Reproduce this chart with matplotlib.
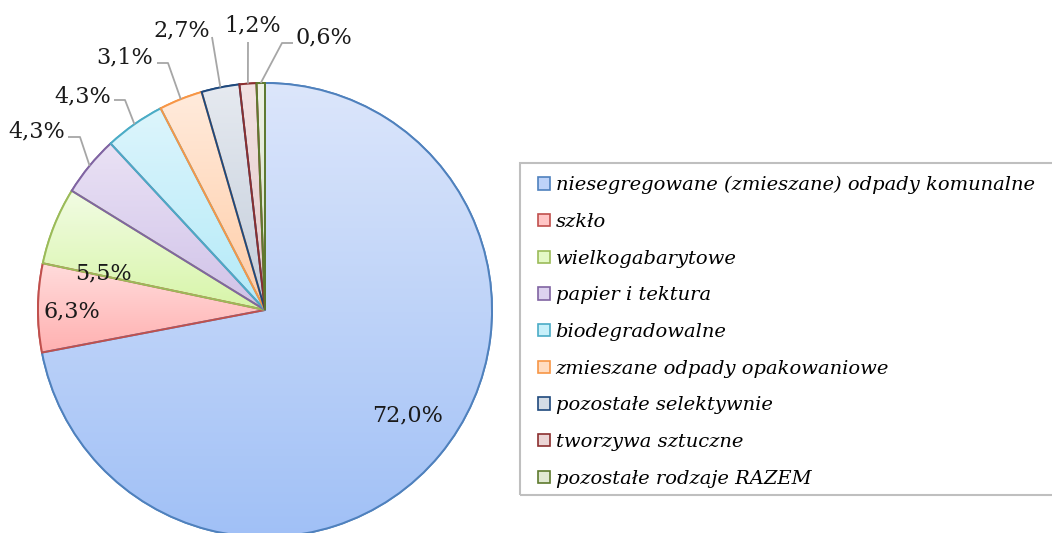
import numpy as np
import matplotlib.pyplot as plt
from matplotlib.colors import to_rgb
from matplotlib.patches import Rectangle, Wedge

# data
labels = ['niesegregowane (zmieszane) odpady komunalne', 'szkło', 'wielkogabarytowe',
          'papier i tektura', 'biodegradowalne', 'zmieszane odpady opakowaniowe',
          'pozostałe selektywnie', 'tworzywa sztuczne', 'pozostałe rodzaje RAZEM']
values = [72.0, 6.3, 5.5, 4.3, 4.3, 3.1, 2.7, 1.2, 0.6]
value_text = ['72,0%', '6,3%', '5,5%', '4,3%', '4,3%', '3,1%', '2,7%', '1,2%', '0,6%']

edge_colors = ['#4F81BD', '#C0504D', '#9BBB59', '#8064A2', '#4BACC6',
               '#F79646', '#1F497D', '#8B2F2F', '#5E7A2E']
top_colors = ['#DCE6FB', '#FFDCDC', '#F2FCE4', '#EAE2F5', '#DDF5FC',
              '#FFEBDC', '#E6EAF0', '#F2E2E2', '#EEF2E6']
bottom_colors = ['#A0C0F6', '#FFB0B0', '#D7F5A8', '#D0C2E8', '#B3EAF8',
                 '#FFCCA6', '#C3CDDB', '#E3C9C9', '#D3DFC0']

W, H = 1052, 533
fig = plt.figure(figsize=(W / 100, H / 100), dpi=100)
ax = fig.add_axes([0, 0, 1, 1])

cx, cy, r = 265, H - 310, 227
font = 'DejaVu Serif'

mid_colors = [tuple((np.array(to_rgb(t)) + np.array(to_rgb(b))) / 2)
              for t, b in zip(top_colors, bottom_colors)]
wedges, _ = ax.pie(values, colors=mid_colors, startangle=90, counterclock=False,
                   center=(cx, cy), radius=r, frame=True,
                   wedgeprops=dict(linewidth=1.4))

# per-slice vertical gradient (light at top, darker at bottom)
for w, ec, tc, bc in zip(wedges, edge_colors, top_colors, bottom_colors):
    w.set_edgecolor(ec)
    v = w.get_path().vertices
    x0, x1 = v[:, 0].min(), v[:, 0].max()
    y0, y1 = v[:, 1].min(), v[:, 1].max()
    t = np.linspace(0, 1, 256)[:, None, None]
    grad = np.array(to_rgb(bc))[None, None, :] * (1 - t) + np.array(to_rgb(tc))[None, None, :] * t
    grad = np.repeat(grad, 2, axis=1)
    im = ax.imshow(grad, extent=(x0, x1, y0, y1), origin='lower', aspect='auto',
                   zorder=w.get_zorder() + 0.1, interpolation='bilinear')
    im.set_clip_path(w)
    ax.add_patch(Wedge(w.center, w.r, w.theta1, w.theta2, fill=False, edgecolor=ec,
                       linewidth=1.4, zorder=w.get_zorder() + 0.2))
ax.set_xlim(0, W)
ax.set_ylim(0, H)
ax.set_aspect('equal')
ax.axis('off')

# labels inside
inside_pos = {0: (408, 415), 1: (72, 311), 2: (103, 273)}
for i, (x, y) in inside_pos.items():
    ax.text(x, H - y, value_text[i], ha='center', va='center', fontsize=16,
            family=font, color='#1a1a1a', zorder=10)

# outside labels with leader lines: text centre, line start, elbow
outside = {
    3: ((37, 131), (68, 137), (80, 137)),
    4: ((83, 96), (114, 100), (125, 100)),
    5: ((125, 57), (157, 63), (168, 63)),
    6: ((182, 30), (212, 37), (212, 37)),
    7: ((253, 25), (248, 42), (248, 42)),
    8: ((324, 37), (293, 43), (282, 43)),
}
for i, (tp, sp, ep) in outside.items():
    w = wedges[i]
    ang = np.deg2rad((w.theta1 + w.theta2) / 2)
    end = (cx + r * np.cos(ang), cy + r * np.sin(ang))
    xs = [sp[0], ep[0], end[0]]
    ys = [H - sp[1], H - ep[1], end[1]]
    ax.plot(xs, ys, color='#A6A6A6', linewidth=1.3, zorder=9, solid_capstyle='butt')
    ax.text(tp[0], H - tp[1], value_text[i], ha='center', va='center', fontsize=16,
            family=font, color='#1a1a1a', zorder=10)

# legend
ax.add_patch(Rectangle((520, H - 495), 560, 332, fill=False, edgecolor='#BFBFBF',
                       linewidth=1.5, zorder=8, clip_on=False))
leg = ax.legend(wedges, labels, loc='upper left', bbox_to_anchor=(538 / W, 1 - 176 / H),
                frameon=False, prop=dict(family=font, style='italic', size=14),
                handlelength=0.6, handleheight=0.6, handletextpad=0.3,
                labelspacing=0.96, borderpad=0, borderaxespad=0)
for h in leg.legend_handles:
    h.set_linewidth(1.2)

fig.savefig('out.png', dpi=100)
